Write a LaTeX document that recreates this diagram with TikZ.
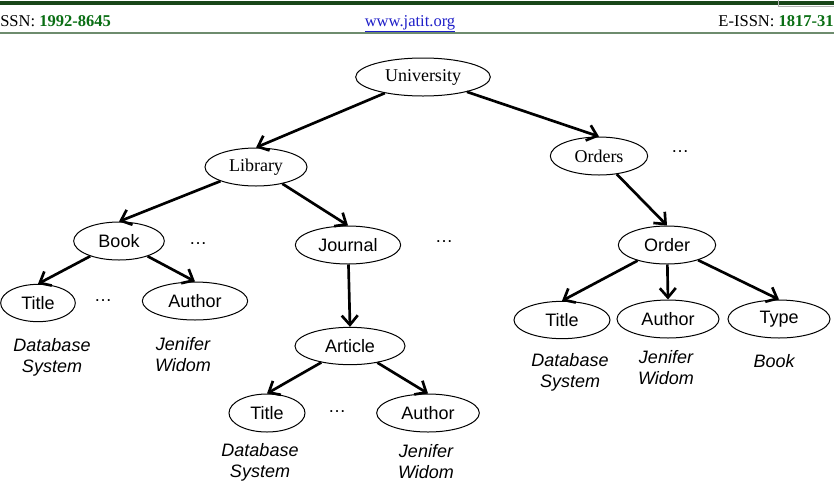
\documentclass[tikz,border=0pt]{standalone}
\usepackage{fontspec}
\setmainfont{Liberation Serif}
\setsansfont{Liberation Sans}
\usetikzlibrary{shapes.geometric,arrows.meta}

\definecolor{hdrdark}{RGB}{25,70,25}
\definecolor{hdrgreen}{RGB}{10,110,20}
\definecolor{hdrline}{RGB}{110,140,110}
\definecolor{linkblue}{RGB}{30,30,200}

\tikzset{
  elem/.style={ellipse, draw, line width=0.75pt, inner sep=0pt, minimum height=28.5pt,
    font=\sffamily\fontsize{13.5}{15}\selectfont},
  selem/.style={elem, font=\fontsize{13.5}{15}\selectfont},
  value/.style={align=center, inner sep=0pt, font=\sffamily\itshape\fontsize{13.5}{15.75}\selectfont},
  more/.style={inner sep=0pt, font=\sffamily\fontsize{13.5}{15}\selectfont},
  arr/.style={-{Straight Barb[length=7pt,width=12pt]}, line width=2pt},
  hdr/.style={inner sep=0pt, font=\fontsize{12.4}{14}\selectfont}
}

\begin{document}
\begin{tikzpicture}[x=0.75pt,y=-0.75pt]
    \useasboundingbox (0,0) rectangle (834,486);
    \clip (0,0) rectangle (834,486);

    % page header
    \draw[hdrdark, line width=2.4pt] (0,3) -- (834,3);
    \draw[gray!60, line width=0.6pt] (778,-1) rectangle (840,6);
    \draw[hdrline, line width=1.2pt] (0,33) -- (834,33);
    \node[hdr, anchor=base west] (issn) at (0,26) {SSN: \textcolor{hdrgreen}{\textbf{1992-8645}}};
    \node[hdr, anchor=base, text=linkblue] (site) at (410,26) {\underline{www.jatit.org}};
    \node[hdr, anchor=base east] (eissn) at (834,26) {E-ISSN: \textcolor{hdrgreen}{\textbf{1817-31}}};

    % upper levels
    \node[selem, minimum width=101pt] (univ) at (423,77) {University};
    \node[selem, minimum width=76.5pt] (lib) at (256,167) {Library};
    \node[selem, minimum width=73pt] (orders) at (599,156) {Orders};
    \node[more] (odots) at (680,152) {\dots};

    \node[elem, minimum width=68pt] (book) at (119,241) {Book};
    \node[more] (bkdots) at (198,244) {\dots};
    \node[elem, minimum width=79pt] (journal) at (348,245) {Journal};
    \node[more] (jdots) at (444,242) {\dots};
    \node[elem, minimum width=73pt] (order) at (667,245) {Order};

    % book branch
    \node[elem, minimum width=56pt, minimum height=28pt] (btitle) at (38,303) {Title};
    \node[more] (btdots) at (103,301) {\dots};
    \node[elem, minimum width=79pt] (bauthor) at (195,301) {Author};
    \node[value] (btitleval) at (52,357) {Database\\System};
    \node[value] (bauthorval) at (183,355) {Jenifer\\Widom};

    % journal branch
    \node[elem, minimum width=82.5pt, minimum height=28pt] (article) at (350,346) {Article};
    \node[elem, minimum width=57pt] (atitle) at (267,413) {Title};
    \node[more] (atdots) at (337,412) {\dots};
    \node[elem, minimum width=77pt] (aauthor) at (428,413) {Author};
    \node[value] (atitleval) at (260,462) {Database\\System};
    \node[value] (aauthorval) at (426,462) {Jenifer\\Widom};

    % orders branch
    \node[elem, minimum width=72pt, minimum height=28pt] (otitle) at (562,320) {Title};
    \node[elem, minimum width=76.5pt] (oauthor) at (668,319) {Author};
    \node[elem, minimum width=76.5pt] (otype) at (779,319) {Type};
    \node[value] (otitleval) at (570,372) {Database\\System};
    \node[value] (oauthorval) at (666,368) {Jenifer\\Widom};
    \node[value] (otypeval) at (774,361) {Book};

    % arrows
    \draw[arr] (univ) -- (lib.north);
    \draw[arr] (univ) -- (orders.north);
    \draw[arr] (lib) -- (book.north);
    \draw[arr] (lib) -- (journal.north);
    \draw[arr] (book) -- (btitle.north);
    \draw[arr] (book) -- (bauthor.north);
    \draw[arr] (journal) -- (article.north);
    \draw[arr] (article) -- (atitle.north);
    \draw[arr] (article) -- (aauthor.north);
    \draw[arr] (orders) -- (order.north);
    \draw[arr] (order) -- (otitle.north);
    \draw[arr] (order) -- (oauthor.north);
    \draw[arr] (order) -- (otype.north);
\end{tikzpicture}
\end{document}
